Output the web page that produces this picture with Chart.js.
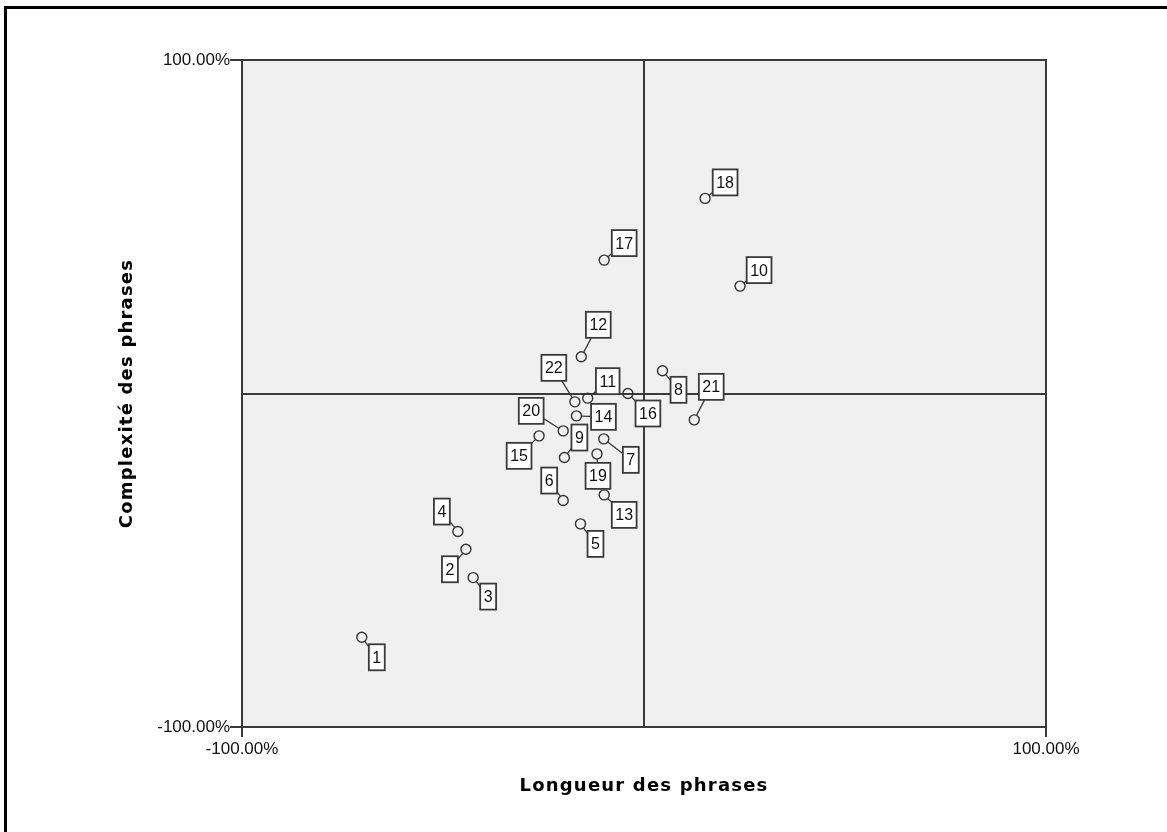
<!DOCTYPE html>
<html>
<head>
<meta charset="utf-8">
<script src="https://cdn.jsdelivr.net/npm/chart.js@4.4.0/dist/chart.umd.min.js"></script>
<style>
  html, body { margin: 0; padding: 0; background: #fff; }
  #wrap { position: relative; width: 1167px; height: 832px; }
  #frame { position: absolute; left: 4px; top: 6px; right: -10px; bottom: -10px;
           border-left: 3px solid #000; border-top: 3px solid #000; pointer-events: none; }
</style>
</head>
<body>
<div id="wrap">
  <canvas id="chart" width="1167" height="832"></canvas>
  <div id="frame"></div>
</div>
<script>
// individus (numéros), longueur (x, en %) et complexité (y, en %)
const ids = ['1','2','3','4','5','6','7','8','9','10','11','12','13','14','15','16','17','18','19','20','21','22'];
const longueur = [-70.2, -44.3, -42.5, -46.3, -15.8, -20.1, -10.0, 4.6, -19.8, 23.9, -14.0,
                  -15.6, -9.9, -16.8, -26.1, -4.0, -9.9, 15.2, -11.7, -20.1, 12.5, -17.2];
const complexite = [-73.1, -46.7, -55.2, -41.4, -39.1, -32.1, -13.6, 6.8, -19.2, 32.2, -1.4,
                    11.0, -30.4, -6.7, -12.7, 0.0, 40.0, 58.5, -18.1, -11.2, -7.9, -2.5];
const axisTicks = [-100, 0, 100];
const xTitle = 'Longueur des phrases';
const yTitle = 'Complexité des phrases';

// décalage des étiquettes (px) par rapport au point
const labelOffsets = [[15,20],[-16,20],[15,19],[-16,-20],[15,20],[-14,-20],[27,21],[16,19],
  [15,-20],[19,-16],[20,-17],[17,-32],[20,20],[27,1],[-20,20],[20,20],[20,-17],[20,-16],
  [1,22],[-32,-20],[17,-33],[-21,-34]];

const points = ids.map((id, i) => ({ x: longueur[i], y: complexite[i], id: id }));

const fmt = v => v === 0 ? '' : v.toFixed(2) + '%';
const LINE = '#3a3a3a';

// fond gris + cadre de la zone de tracé
const plotBox = {
  id: 'plotBox',
  beforeDraw(chart) {
    const { ctx, chartArea: a } = chart;
    ctx.save();
    ctx.fillStyle = '#f0f0f0';
    ctx.fillRect(a.left, a.top, a.right - a.left, a.bottom - a.top);
    ctx.restore();
  },
  afterDatasetsDraw(chart) {
    const { ctx, chartArea: a } = chart;
    ctx.save();
    ctx.strokeStyle = LINE;
    ctx.lineWidth = 2;
    ctx.strokeRect(a.left, a.top, a.right - a.left, a.bottom - a.top);
    ctx.restore();
  }
};

// étiquettes encadrées reliées aux points
const boxLabels = {
  id: 'boxLabels',
  afterDatasetsDraw(chart) {
    const ctx = chart.ctx;
    const meta = chart.getDatasetMeta(0);
    ctx.save();
    ctx.font = '16px "Liberation Sans", Arial, sans-serif';
    ctx.textAlign = 'center';
    ctx.textBaseline = 'middle';
    meta.data.forEach((el, i) => {
      const [dx, dy] = labelOffsets[i];
      const cx = el.x + dx, cy = el.y + dy;
      const w = ctx.measureText(ids[i]).width + 7;
      const h = 26;
      // trait de liaison
      const len = Math.hypot(dx, dy);
      ctx.strokeStyle = LINE;
      ctx.lineWidth = 1.3;
      ctx.beginPath();
      ctx.moveTo(el.x + dx / len * 5, el.y + dy / len * 5);
      ctx.lineTo(cx, cy);
      ctx.stroke();
      ctx.fillStyle = '#fff';
      ctx.fillRect(cx - w / 2, cy - h / 2, w, h);
      ctx.lineWidth = 1.8;
      ctx.strokeRect(cx - w / 2, cy - h / 2, w, h);
      ctx.fillStyle = '#111';
      ctx.fillText(ids[i], cx, cy + 1);
    });
    ctx.restore();
  }
};

// titres des axes
const axisTitles = {
  id: 'axisTitles',
  afterDraw(chart) {
    const { ctx, chartArea: a } = chart;
    ctx.save();
    ctx.fillStyle = '#000';
    ctx.font = 'bold 18px "DejaVu Sans", Verdana, sans-serif';
    ctx.letterSpacing = '1.2px';
    ctx.textAlign = 'center';
    ctx.textBaseline = 'middle';
    ctx.fillText(xTitle, (a.left + a.right) / 2, 786);
    ctx.translate(127, (a.top + a.bottom) / 2);
    ctx.rotate(-Math.PI / 2);
    ctx.fillText(yTitle, 0, 0);
    ctx.restore();
  }
};

const tickFont = { family: '"Liberation Sans", Arial, sans-serif', size: 17 };
const gridColor = c => c.tick && c.tick.value === 0 ? LINE : 'rgba(0,0,0,0)';
const tickColor = c => c.tick && c.tick.value === 0 ? 'rgba(0,0,0,0)' : LINE;

new Chart(document.getElementById('chart'), {
  type: 'scatter',
  data: {
    datasets: [{
      data: points,
      pointRadius: 5,
      pointHoverRadius: 5,
      pointBorderWidth: 1.4,
      pointBorderColor: '#333',
      pointBackgroundColor: 'rgba(0,0,0,0)'
    }]
  },
  options: {
    responsive: false,
    animation: false,
    events: [],
    layout: { padding: { left: 0, top: 60, right: 121, bottom: 0 } },
    plugins: { legend: { display: false }, tooltip: { enabled: false } },
    scales: {
      x: {
        type: 'linear', min: -100, max: 100,
        afterBuildTicks: s => { s.ticks = axisTicks.map(v => ({ value: v })); },
        afterFit: s => { s.height = 105; },
        grid: { color: gridColor, lineWidth: 2, tickColor: tickColor, tickLength: 10, tickWidth: 2 },
        border: { display: false },
        ticks: { color: '#111', font: tickFont, padding: 2, maxRotation: 0, autoSkip: false, callback: fmt }
      },
      y: {
        type: 'linear', min: -100, max: 100,
        afterBuildTicks: s => { s.ticks = axisTicks.map(v => ({ value: v })); },
        afterFit: s => { s.width = 242; },
        grid: { color: gridColor, lineWidth: 2, tickColor: tickColor, tickLength: 12, tickWidth: 2 },
        border: { display: false },
        ticks: { color: '#111', font: tickFont, padding: 0, autoSkip: false, callback: fmt }
      }
    }
  },
  plugins: [plotBox, boxLabels, axisTitles]
});
</script>
</body>
</html>
